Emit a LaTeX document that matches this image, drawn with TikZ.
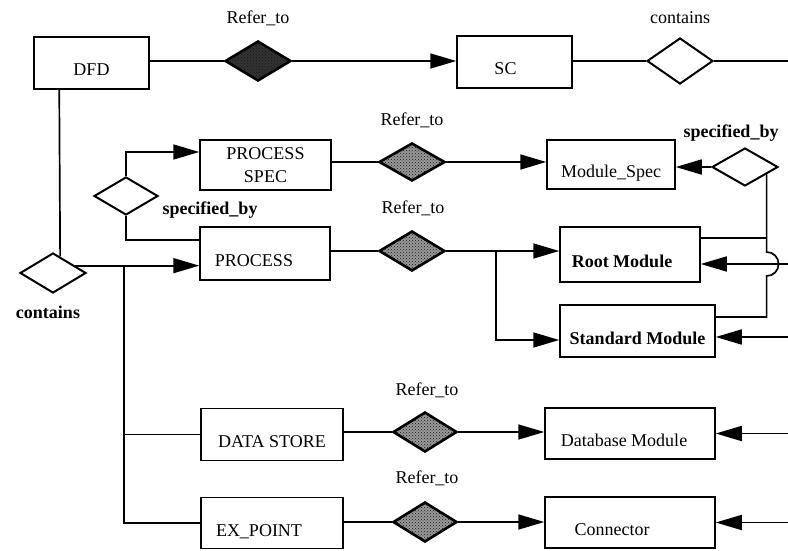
\documentclass[tikz,border=0pt]{standalone}
\usepackage{fontspec}
\setmainfont{Liberation Serif}
\usetikzlibrary{shapes.geometric,arrows.meta,patterns,calc}
\begin{document}
\begin{tikzpicture}[x=1pt,y=-1pt,
  every node/.style={font=\fontsize{18}{22}\selectfont},
  bl/.style={font=\fontsize{18}{22}\selectfont\bfseries},
  entb/.style 2 args={draw, line width=1.5pt, inner sep=0pt,
    minimum width=#1, minimum height=#2},
  ent/.style 2 args={entb={#1}{#2}, text height=26pt, text depth=0pt},
  rel/.style 2 args={diamond, draw, line width=2pt, inner sep=0pt,
    minimum width=#1, minimum height=#2, fill=white},
  refer/.style 2 args={diamond, draw, line width=2.6pt, inner sep=0pt,
    minimum width=#1, minimum height=#2,
    preaction={fill=black!40}, pattern=crosshatch dots, pattern color=black!90},
  ln/.style={line width=1.7pt},
  arr/.style={line width=1.7pt, -{Triangle[length=26pt,width=15pt]}}]

\fill[white] (0,0) rectangle (788,551);
\useasboundingbox (0,0) rectangle (788,551);

% ---- top row: DFD -> SC
\node[ent={115pt}{52pt}] (dfd) at (91.5,63) {DFD};
\node[ent={115pt}{52pt}] (sc) at (514.5,62) {SC\hspace*{18pt}};
\node[refer={66pt}{40pt}, preaction={fill=black!80}] (r1) at (258,61) {};
\node (l1) at (258,18) {Refer\_to};
\node[rel={66pt}{46pt}] (c1) at (680,61) {};
\node (l2) at (680,18) {contains};
\coordinate (e0) at (788,61);
\draw[ln] (dfd.east |- r1.west) -- (r1.west);
\draw[arr] (r1.east) -- (sc.west |- r1.east);
\draw[ln] (sc.east |- c1.west) -- (c1.west);
\draw[ln] (c1.east) -- (e0);

% ---- DFD contains its parts
\node[rel={66pt}{40pt}] (c2) at (53,273) {};
\node[bl] (l3) at (48,312) {contains};
\draw[ln] ([xshift=26pt]dfd.south west) -- ($(c2.north)!0.21!(c2.east)$);

\node[ent={130pt}{53pt}] (proc) at (265,253.5) {PROCESS\hspace*{22pt}};
\node[entb={131pt}{50pt}, align=center, font=\fontsize{18}{23}\selectfont] (pspec) at (265.5,165) {PROCESS\\SPEC};
\node[ent={142pt}{52pt}] (ds) at (272,434.5) {DATA STORE};
\node[ent={142pt}{51pt}] (ex) at (272,523) {EX\_POINT\hspace*{26pt}};

\coordinate (j0) at ($(c2.east)!0.35!(c2.north)$);
\coordinate (tx) at (124,0);
\coordinate (j1) at (j0 -| tx);
\draw[arr] (j0) -- (j0 -| proc.west);
\draw[ln] (j1) |- (ex.west);
\draw[ln] (j1 |- ds.west) -- (ds.west);

% ---- process specified by process spec
\node[rel={64pt}{38pt}] (s1) at (126,196) {};
\node[bl] (l4) at (210,210) {specified\_by};
\draw[arr] (s1.north) |- ([yshift=13pt]pspec.west);
\draw[ln] (s1.south) |- ([yshift=13.5pt]proc.west);

% ---- module side
\node[ent={128pt}{49pt}] (mspec) at (611,164.5) {Module\_Spec};
\node[ent={140pt}{55pt}, bl] (root) at (630,254.5) {Root Module\hspace*{16pt}};
\node[ent={155pt}{52pt}, bl] (std) at (637.5,331) {Standard Module};
\node[ent={170pt}{51pt}] (db) at (630,433.5) {Database Module\hspace*{12pt}};
\node[ent={170pt}{51pt}] (conn) at (630,522.5) {Connector\hspace*{36pt}};

\node[refer={66pt}{38pt}] (r2) at (412,162) {};
\node (l5) at (412,120) {Refer\_to};
\draw[ln] (pspec.east |- r2.west) -- (r2.west);
\draw[arr] (r2.east) -- (mspec.west |- r2.east);

\node[refer={66pt}{40pt}] (r3) at (412,251) {};
\node (l6) at (413,208) {Refer\_to};
\draw[ln] (proc.east |- r3.west) -- (r3.west);
\draw[arr] (r3.east) -- (root.west |- r3.east);
\coordinate (b1) at ($(r3.east)+(50,0)$);
\draw[arr] (b1) |- ([yshift=-9pt]std.west);

\node[refer={64pt}{40pt}] (r4) at (425,432) {};
\node (l7) at (427,390) {Refer\_to};
\draw[ln] (ds.east |- r4.west) -- (r4.west);
\draw[arr] (r4.east) -- (db.west |- r4.east);

\node[refer={64pt}{40pt}] (r5) at (425,522) {};
\node (l8) at (427,478) {Refer\_to};
\draw[ln] (ex.east |- r5.west) -- (r5.west);
\draw[arr] (r5.east) -- (conn.west |- r5.east);

% ---- module spec specifies root and standard modules
\node[rel={66pt}{38pt}] (s2) at (745,167) {};
\node[bl] (l9) at (731,133) {specified\_by};
\draw[arr] (s2.west) -- (mspec.east |- s2.west);

\coordinate (e1) at (788,264);
\coordinate (e2) at (788,337);
\coordinate (e3) at (788,433.5);
\coordinate (e4) at (788,522.5);

\coordinate (v0) at ($(s2.south)!0.636!(s2.east)$);
\coordinate (v1) at ([yshift=16.5pt]root.east);
\draw[ln] (v0) -- ($(v0 |- e1)+(0,-12)$) arc[start angle=-90, end angle=90, radius=12]
  |- ([yshift=14pt]std.east);
\draw[ln] (v1) -- (v1 -| v0);

\draw[arr] (e1) -- (e1 -| root.east);
\draw[arr] (e2) -- (e2 -| std.east);
\draw[arr] (e3) -- (e3 -| db.east);
\draw[arr] (e4) -- (e4 -| conn.east);
\end{tikzpicture}
\end{document}
